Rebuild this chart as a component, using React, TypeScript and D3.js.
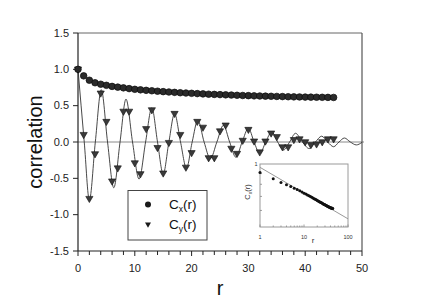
import React from 'react';
import * as d3 from 'd3';

// ---- data ----
const rIndex = [0,1,2,3,4,5,6,7,8,9,10,11,12,13,14,15,16,17,18,19,20,21,22,23,24,25,26,27,28,29,30,31,32,33,34,35,36,37,38,39,40,41,42,43,44,45];
const cxValues = [1.00,0.91,0.85,0.815,0.795,0.78,0.765,0.755,0.745,0.735,0.725,0.718,0.711,0.705,0.699,0.693,0.688,0.683,0.678,0.674,0.670,0.666,0.662,0.658,0.655,0.652,0.649,0.646,0.643,0.640,0.638,0.635,0.633,0.631,0.629,0.627,0.625,0.623,0.621,0.620,0.618,0.617,0.616,0.615,0.614,0.613];
const cyValues = [1.00,0.10,-0.78,-0.165,0.67,0.28,-0.54,-0.36,0.42,0.42,-0.29,-0.44,0.18,0.44,-0.08,-0.43,-0.01,0.39,0.10,-0.35,-0.15,0.28,0.20,-0.22,-0.22,0.15,0.23,-0.09,-0.16,0.02,0.17,0.01,-0.14,0.01,0.12,0.07,-0.07,-0.07,0.03,0.04,0.0,-0.04,-0.03,0.0,0.04,0.04];
// damped oscillating fit curve (knots: extrema and zero crossings)
const fitR = [0,1.1,2.0,3.05,4.1,5.2,6.3,7.4,8.45,9.6,10.75,11.9,13.0,14.0,15.0,16.0,17.0,18.05,19.1,20.1,21.1,22.2,23.3,24.45,25.6,26.7,27.8,28.9,30.0,31.0,32.0,33.05,34.1,35.15,36.2,37.25,38.3,39.5,40.7,41.8,42.9,43.95,45.0,45.95,46.9,47.95,49.0,50.0];
const fitC = [1.0,0,-0.80,0,0.72,0,-0.63,0,0.59,0,-0.51,0,0.47,0,-0.44,0,0.39,0,-0.36,0,0.30,0,-0.23,0,0.23,0,-0.21,0,0.19,0,-0.16,0,0.14,0,-0.11,0,0.12,0,-0.09,0,0.08,0,-0.065,0,0.055,0,-0.04,-0.005];
// inset power-law fit line end points
const insetFitR = [1, 100];
const insetFitC = [0.964, 0.547];

const xTicks = [0, 10, 20, 30, 40, 50];
const xMinorTicks = [2,4,6,8,12,14,16,18,22,24,26,28,32,34,36,38,42,44,46,48];
const yTicks = [-1.5, -1.0, -0.5, 0.0, 0.5, 1.0, 1.5];
const insetXLabels = [1, 10, 100];
const insetXMinor = [2,3,4,5,6,7,8,9,20,30,40,50,60,70,80,90];
const insetYTicks = [0.6, 0.7, 0.8, 0.9];

const FONT = '"Liberation Sans", Arial, Helvetica, sans-serif';

export default function App() {
  const x = d3.scaleLinear().domain([0, 50]).range([78, 362]);
  const y = d3.scaleLinear().domain([-1.5, 1.5]).range([251, 33]);

  const fitLine = d3.line<number>()
    .x((_, i) => x(fitR[i]))
    .y((d) => y(d))
    .curve(d3.curveMonotoneX)(fitC) as string;

  const tri = (cx: number, cy: number, w = 3.6, h1 = 2.3, h2 = 3.9) =>
    `M${cx - w},${cy - h1}L${cx + w},${cy - h1}L${cx},${cy + h2}Z`;

  // inset scales
  const ix = d3.scaleLog().domain([1, 100]).range([260, 348]);
  const iy = d3.scaleLog().domain([0.5, 1]).range([227, 164]);

  return (
    <svg width={430} height={300} style={{ position: 'absolute', left: 0, top: 0, background: '#fff' }} fontFamily={FONT}>
      <rect x={0} y={0} width={430} height={300} fill="#fff" />
      {/* zero line */}
      <line x1={x(0)} x2={x(50) + 2} y1={y(0)} y2={y(0)} stroke="#8a8a8a" strokeWidth={1} />
      {/* frame */}
      <line x1={x(0)} x2={x(50)} y1={y(1.5)} y2={y(1.5)} stroke="#666" strokeWidth={1} />
      <line x1={x(50)} x2={x(50)} y1={y(1.5)} y2={y(-1.5)} stroke="#555" strokeWidth={1.2} />
      <line x1={x(0)} x2={x(0)} y1={y(1.5)} y2={y(-1.5)} stroke="#222" strokeWidth={1.2} />
      <line x1={x(0)} x2={x(50)} y1={y(-1.5)} y2={y(-1.5)} stroke="#222" strokeWidth={1.2} />
      {/* y ticks */}
      {yTicks.map((t) => (
        <g key={'y' + t}>
          <line x1={x(0) - 5} x2={x(0)} y1={y(t)} y2={y(t)} stroke="#222" strokeWidth={1} />
          <text x={x(0) - 9} y={y(t) + 3.8} fontSize={11} textAnchor="end" fill="#222">{t.toFixed(1)}</text>
        </g>
      ))}
      {/* x ticks */}
      {xTicks.map((t) => (
        <g key={'x' + t}>
          <line x1={x(t)} x2={x(t)} y1={y(-1.5)} y2={y(-1.5) + 5} stroke="#222" strokeWidth={1} />
          <text x={x(t)} y={272} fontSize={11} textAnchor="middle" fill="#222">{t}</text>
        </g>
      ))}
      {xMinorTicks.map((t) => (
        <line key={'xm' + t} x1={x(t)} x2={x(t)} y1={y(-1.5)} y2={y(-1.5) + 4} stroke="#222" strokeWidth={1} />
      ))}
      {/* axis titles */}
      <text transform={`translate(42,${y(0)}) rotate(-90)`} fontSize={20} textAnchor="middle" fill="#111">correlation</text>
      <text x={(x(0) + x(50)) / 2} y={295} fontSize={20} textAnchor="middle" fill="#111">r</text>

      {/* fit curve */}
      <path d={fitLine} fill="none" stroke="#333" strokeWidth={0.9} />

      {/* Cy triangles */}
      {rIndex.map((r, i) => (
        <path key={'t' + r} d={tri(x(r), y(cyValues[i]))} fill="#3a3a3a" stroke="#111" strokeWidth={0.6} />
      ))}
      {/* Cx circles */}
      {rIndex.map((r, i) => (
        <circle key={'c' + r} cx={x(r)} cy={y(cxValues[i])} r={3.3} fill="#2a2a2a" stroke="#0a0a0a" strokeWidth={0.7} />
      ))}

      {/* legend */}
      <rect x={128} y={190.5} width={79} height={49.5} fill="#fff" stroke="#444" strokeWidth={1} />
      <circle cx={148} cy={204.5} r={3} fill="#1a1a1a" />
      <path d={tri(148, 224.5, 3, 2, 3.2)} fill="#1a1a1a" />
      <text x={169} y={209} fontSize={13.5} fill="#111">C<tspan fontSize={8.5} dy={3}>x</tspan><tspan dy={-3}>(r)</tspan></text>
      <text x={169} y={229} fontSize={13.5} fill="#111">C<tspan fontSize={8.5} dy={3}>y</tspan><tspan dy={-3}>(r)</tspan></text>

      {/* inset */}
      <rect x={260} y={164} width={88} height={63} fill="#fff" stroke="#9a9a9a" strokeWidth={1} />
      {insetYTicks.map((t) => (
        <line key={'iy' + t} x1={260} x2={262} y1={iy(t)} y2={iy(t)} stroke="#888" strokeWidth={0.8} />
      ))}
      {insetXMinor.map((t) => (
        <line key={'ixm' + t} x1={ix(t)} x2={ix(t)} y1={227} y2={225.5} stroke="#888" strokeWidth={0.8} />
      ))}
      {insetXLabels.map((t) => (
        <g key={'ix' + t}>
          <line x1={ix(t)} x2={ix(t)} y1={227} y2={224.5} stroke="#888" strokeWidth={0.8} />
          <text x={ix(t)} y={239} fontSize={5.5} textAnchor="middle" fill="#333">{t}</text>
        </g>
      ))}
      <text x={256} y={166} fontSize={5.5} textAnchor="middle" fill="#333">1</text>
      <text x={313} y={243} fontSize={8} textAnchor="middle" fill="#333">r</text>
      <text transform="translate(250,192) rotate(-90)" fontSize={7.5} textAnchor="middle" fill="#333">C<tspan fontSize={5} dy={2}>x</tspan><tspan dy={-2}>(r)</tspan></text>
      <line x1={ix(insetFitR[0])} y1={iy(insetFitC[0])} x2={ix(insetFitR[1])} y2={iy(insetFitC[1])} stroke="#999" strokeWidth={1} />
      {rIndex.filter((r) => r >= 1).map((r) => (
        <circle key={'ic' + r} cx={ix(r)} cy={iy(cxValues[r])} r={1.5} fill="#111" />
      ))}
    </svg>
  );
}
